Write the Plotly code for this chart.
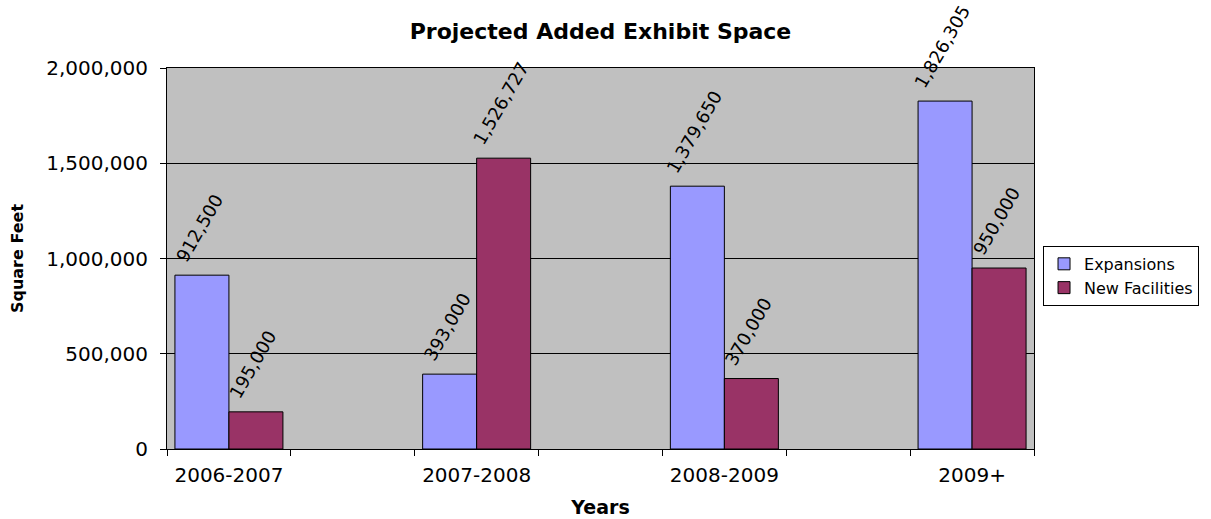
import plotly.graph_objects as go

categories = ["2006-2007", "2007-2008", "2008-2009", "2009+"]
expansions = [912500, 393000, 1379650, 1826305]
new_facilities = [195000, 1526727, 370000, 950000]
y_ticks = [0, 500000, 1000000, 1500000, 2000000]

FONT = "DejaVu Sans"
W, H = 1211, 519
L, R, T, B = 167, 177, 68, 70
BW = 0.436

xpos = [2 * i for i in range(len(categories))]

fig = go.Figure()
fig.add_trace(go.Bar(
    name="Expansions", x=xpos, y=expansions, offset=-BW, width=BW,
    marker=dict(color="#9999FF", line=dict(color="#000000", width=1)),
))
fig.add_trace(go.Bar(
    name="New Facilities", x=xpos, y=new_facilities, offset=0, width=BW,
    marker=dict(color="#993366", line=dict(color="#000000", width=1)),
))

for series, off in ((expansions, -BW / 2), (new_facilities, BW / 2)):
    for xi, v in zip(xpos, series):
        fig.add_annotation(
            x=xi + off, y=v, xref="x", yref="y", text=f"{v:,}",
            textangle=-60, showarrow=False, xanchor="center", yanchor="bottom",
            xshift=-3, yshift=7, font=dict(family=FONT, size=18, color="#000000"),
        )

fig.update_layout(
    width=W, height=H,
    margin=dict(l=L, r=R, t=T, b=B, pad=0, autoexpand=False),
    paper_bgcolor="#FFFFFF", plot_bgcolor="#C0C0C0",
    barmode="overlay",
    font=dict(family=FONT, color="#000000"),
    title=dict(text="<b>Projected Added Exhibit Space</b>", x=0.5, xref="paper",
               y=1 - 31 / H, yref="container", yanchor="middle", xanchor="center",
               font=dict(family=FONT, size=22, color="#000000")),
    showlegend=True,
    legend=dict(x=1.0104, y=0.533, xanchor="left", yanchor="top",
                bordercolor="#000000", borderwidth=1, bgcolor="#FFFFFF",
                font=dict(family=FONT, size=16, color="#000000"),
                tracegroupgap=0),
)
fig.update_xaxes(
    range=[-0.5, 6.5], tickmode="array", tickvals=xpos, ticktext=categories,
    ticks="", showgrid=False, zeroline=False, automargin=False,
    showline=True, linecolor="#000000", linewidth=1, mirror=True,
    tickfont=dict(family=FONT, size=20, color="#000000"),
    ticklabelstandoff=8,
    minor=dict(tickmode="linear", tick0=-0.5, dtick=1, ticks="outside", ticklen=6,
               tickcolor="#000000", tickwidth=1, showgrid=False),
    title=dict(text="<b>Years</b>", standoff=14, font=dict(family=FONT, size=19, color="#000000")),
)
fig.update_yaxes(
    range=[0, 2000000], tickmode="array", tickvals=y_ticks, tickformat=",d",
    ticks="outside", ticklen=6, tickcolor="#000000",
    showgrid=True, gridcolor="#000000", gridwidth=1, zeroline=False, automargin=False,
    showline=True, linecolor="#000000", linewidth=1, mirror=True,
    tickfont=dict(family=FONT, size=20, color="#000000"),
    ticklabelstandoff=8,
    title=dict(text="<b>Square Feet</b>", standoff=18, font=dict(family=FONT, size=16, color="#000000")),
)

fig.write_html("out.html")
